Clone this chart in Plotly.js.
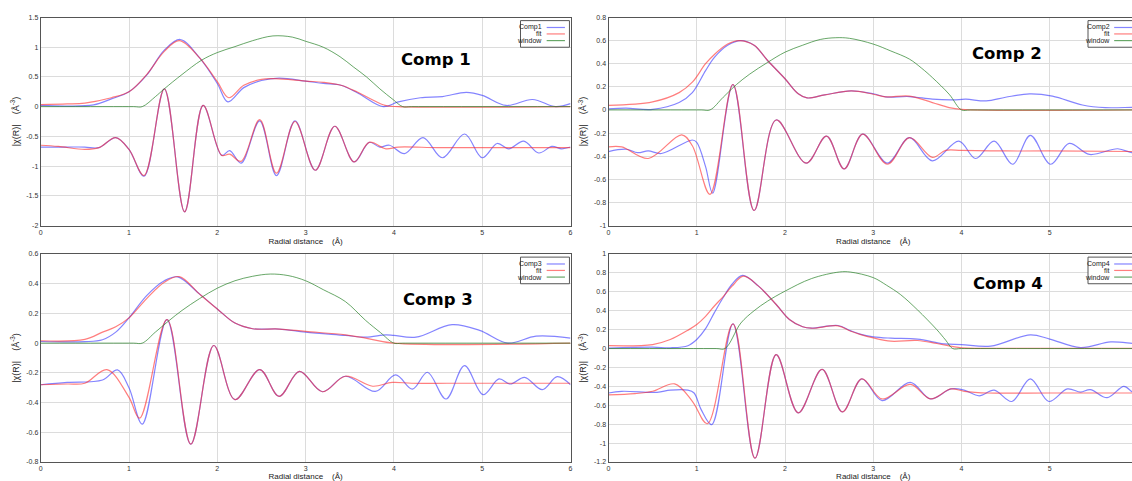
<!DOCTYPE html>
<html>
<head>
<meta charset="utf-8">
<script src="https://cdn.plot.ly/plotly-3.0.1.min.js"></script>
<style>
html,body{margin:0;padding:0;background:#fff;overflow:hidden;}
#chart{width:1140px;height:481px;}
</style>
</head>
<body>
<div id="chart"></div>
<script>
// ---------- tick labels ----------
const xTicks = [0, 1, 2, 3, 4, 5, 6];
const p1YTicks = [1.5, 1, 0.5, 0, -0.5, -1, -1.5, -2];
const p2YTicks = [0.8, 0.6, 0.4, 0.2, 0, -0.2, -0.4, -0.6, -0.8, -1];
const p3YTicks = [0.6, 0.4, 0.2, 0, -0.2, -0.4, -0.6, -0.8];
const p4YTicks = [1, 0.8, 0.6, 0.4, 0.2, 0, -0.2, -0.4, -0.6, -0.8, -1, -1.2];

// ---------- series names ----------
const p1Names = ['Comp1', 'fit', 'window'];
const p2Names = ['Comp2', 'fit', 'window'];
const p3Names = ['Comp3', 'fit', 'window'];
const p4Names = ['Comp4', 'fit', 'window'];
const panelTitles = ['Comp 1', 'Comp 2', 'Comp 3', 'Comp 4'];

// ---------- Panel 1 ----------
const p1CompMagX = [0, 0.3, 0.6, 0.8, 1.0, 1.2, 1.4, 1.58, 1.8, 2.0, 2.12, 2.3, 2.5, 2.7, 3.0, 3.2, 3.4, 3.6, 3.88, 4.05, 4.3, 4.55, 4.82, 5.0, 5.27, 5.57, 5.83, 6];
const p1CompMagY = [0.02, 0.01, 0.03, 0.13, 0.25, 0.53, 0.95, 1.13, 0.82, 0.39, 0.08, 0.32, 0.44, 0.48, 0.43, 0.39, 0.36, 0.22, 0.0, 0.08, 0.15, 0.17, 0.24, 0.19, 0.02, 0.12, 0.0, 0.05];
const p1FitMagX = [0, 0.3, 0.5, 0.8, 1.0, 1.2, 1.4, 1.57, 1.8, 2.0, 2.13, 2.3, 2.5, 2.65, 3.0, 3.2, 3.4, 3.58, 3.75, 3.9, 4.05, 6];
const p1FitMagY = [0.035, 0.045, 0.06, 0.15, 0.25, 0.54, 0.93, 1.11, 0.82, 0.42, 0.15, 0.36, 0.46, 0.47, 0.43, 0.41, 0.36, 0.25, 0.12, 0.02, 0.0, 0.0];
const p1WinX = [0, 1.05, 1.15, 1.3, 1.4, 1.6, 1.82, 2.0, 2.2, 2.4, 2.63, 2.85, 3.0, 3.2, 3.39, 3.54, 3.69, 3.84, 3.99, 4.1, 4.2, 6];
const p1WinY = [0, 0, 0, 0.17, 0.30, 0.54, 0.78, 0.91, 1.01, 1.11, 1.19, 1.17, 1.10, 1.0, 0.84, 0.67, 0.50, 0.30, 0.12, 0, 0, 0];
const p1CompReX = [0, 0.3, 0.5, 0.66, 0.85, 1.0, 1.17, 1.4, 1.63, 1.84, 2.05, 2.14, 2.27, 2.48, 2.67, 2.88, 3.11, 3.33, 3.55, 3.72, 3.84, 3.95, 4.12, 4.33, 4.55, 4.8, 5.0, 5.17, 5.3, 5.47, 5.64, 5.79, 5.9, 6];
const p1CompReY = [-0.68, -0.68, -0.68, -0.69, -0.52, -0.72, -1.17, 0.30, -1.77, 0.02, -0.82, -0.74, -0.95, -0.24, -1.16, -0.24, -1.07, -0.33, -0.93, -0.60, -0.68, -0.65, -0.79, -0.52, -0.86, -0.46, -0.86, -0.62, -0.71, -0.58, -0.78, -0.67, -0.71, -0.68];
const p1FitReX = [0, 0.2, 0.5, 0.66, 0.85, 1.0, 1.17, 1.4, 1.63, 1.84, 2.05, 2.14, 2.27, 2.48, 2.67, 2.88, 3.11, 3.33, 3.55, 3.72, 3.91, 4.05, 4.5, 5, 6];
const p1FitReY = [-0.65, -0.67, -0.72, -0.69, -0.52, -0.72, -1.16, 0.30, -1.77, 0.02, -0.82, -0.80, -0.92, -0.22, -1.12, -0.25, -1.07, -0.33, -0.93, -0.60, -0.71, -0.68, -0.69, -0.69, -0.69];

// ---------- Panel 2 ----------
const p2CompMagX = [0, 0.2, 0.5, 0.8, 0.95, 1.1, 1.2, 1.35, 1.5, 1.65, 1.8, 2.0, 2.15, 2.25, 2.45, 2.75, 3.0, 3.14, 3.41, 3.67, 3.9, 4.05, 4.28, 4.5, 4.77, 5.03, 5.37, 5.63, 5.93, 6];
const p2CompMagY = [0.01, 0.015, 0.005, 0.064, 0.15, 0.34, 0.455, 0.56, 0.60, 0.56, 0.43, 0.27, 0.14, 0.104, 0.13, 0.165, 0.14, 0.113, 0.116, 0.093, 0.087, 0.093, 0.078, 0.11, 0.139, 0.12, 0.043, 0.02, 0.023, 0.023];
const p2FitMagX = [0, 0.5, 0.8, 0.95, 1.1, 1.2, 1.35, 1.48, 1.65, 1.8, 2.0, 2.15, 2.25, 2.45, 2.75, 3.0, 3.14, 3.41, 3.67, 3.86, 4.0, 6];
const p2FitMagY = [0.04, 0.07, 0.15, 0.24, 0.40, 0.48, 0.57, 0.60, 0.56, 0.43, 0.27, 0.14, 0.104, 0.13, 0.165, 0.136, 0.113, 0.12, 0.064, 0.02, 0.005, 0.0];
const p2WinX = [0, 1.05, 1.15, 1.3, 1.45, 1.6, 1.8, 2.0, 2.2, 2.4, 2.575, 2.73, 3.0, 3.2, 3.41, 3.55, 3.67, 3.86, 4.0, 4.1, 6];
const p2WinY = [0, 0, 0, 0.11, 0.22, 0.31, 0.41, 0.50, 0.56, 0.61, 0.625, 0.62, 0.57, 0.51, 0.44, 0.36, 0.28, 0.136, 0, 0, 0];
const p2CompReX = [0, 0.2, 0.33, 0.45, 0.6, 0.95, 1.0, 1.1, 1.18, 1.41, 1.65, 1.9, 2.24, 2.47, 2.67, 2.88, 3.16, 3.41, 3.67, 3.97, 4.16, 4.37, 4.58, 4.78, 5.01, 5.22, 5.45, 5.77, 5.93, 6];
const p2CompReY = [-0.36, -0.34, -0.37, -0.355, -0.377, -0.26, -0.28, -0.49, -0.72, 0.22, -0.87, -0.087, -0.46, -0.226, -0.51, -0.21, -0.46, -0.24, -0.44, -0.27, -0.42, -0.27, -0.47, -0.22, -0.47, -0.29, -0.385, -0.336, -0.37, -0.37];
const p2FitReX = [0, 0.15, 0.45, 0.83, 0.95, 1.15, 1.41, 1.65, 1.9, 2.24, 2.47, 2.67, 2.88, 3.16, 3.41, 3.67, 3.82, 4.0, 4.5, 5.0, 6];
const p2FitReY = [-0.32, -0.32, -0.42, -0.215, -0.31, -0.73, 0.22, -0.87, -0.087, -0.46, -0.226, -0.51, -0.21, -0.47, -0.24, -0.41, -0.35, -0.35, -0.355, -0.355, -0.36];

// ---------- Panel 3 ----------
const p3CompMagX = [0, 0.5, 0.7, 0.85, 1.0, 1.2, 1.4, 1.55, 1.8, 2.0, 2.2, 2.4, 2.7, 3.0, 3.45, 3.68, 3.91, 4.0, 4.25, 4.66, 4.97, 5.29, 5.61, 6];
const p3CompMagY = [0.011, 0.01, 0.023, 0.074, 0.17, 0.32, 0.42, 0.446, 0.33, 0.23, 0.135, 0.097, 0.095, 0.074, 0.052, 0.04, 0.056, 0.052, 0.04, 0.124, 0.086, 0.0, 0.047, 0.034];
const p3FitMagX = [0, 0.5, 0.7, 0.85, 1.0, 1.2, 1.4, 1.57, 1.8, 2.0, 2.2, 2.4, 2.7, 3.0, 3.45, 3.68, 4.0, 6];
const p3FitMagY = [0.016, 0.025, 0.074, 0.11, 0.17, 0.30, 0.41, 0.448, 0.33, 0.23, 0.135, 0.097, 0.095, 0.079, 0.056, 0.034, 0.0, 0.0];
const p3WinX = [0, 1.05, 1.15, 1.3, 1.45, 1.6, 1.8, 2.0, 2.2, 2.4, 2.6, 2.8, 3.0, 3.2, 3.45, 3.68, 3.85, 4.0, 4.1, 6];
const p3WinY = [0, 0, 0, 0.075, 0.15, 0.22, 0.30, 0.37, 0.42, 0.45, 0.465, 0.455, 0.42, 0.36, 0.28, 0.153, 0.07, 0, 0, 0];
const p3CompReX = [0, 0.3, 0.7, 0.87, 1.0, 1.15, 1.43, 1.7, 1.96, 2.2, 2.48, 2.7, 2.93, 3.19, 3.45, 3.79, 4.02, 4.21, 4.38, 4.59, 4.8, 5.01, 5.19, 5.32, 5.48, 5.68, 5.85, 6];
const p3CompReY = [-0.28, -0.264, -0.248, -0.18, -0.30, -0.545, 0.158, -0.68, -0.016, -0.38, -0.178, -0.358, -0.19, -0.327, -0.223, -0.325, -0.214, -0.31, -0.196, -0.376, -0.151, -0.347, -0.241, -0.275, -0.23, -0.313, -0.226, -0.28];
const p3FitReX = [0, 0.3, 0.5, 0.75, 1.0, 1.12, 1.43, 1.7, 1.96, 2.2, 2.48, 2.7, 2.93, 3.19, 3.45, 3.76, 3.98, 4.2, 4.6, 5, 6];
const p3FitReY = [-0.28, -0.275, -0.27, -0.178, -0.365, -0.505, 0.158, -0.68, -0.016, -0.38, -0.178, -0.358, -0.19, -0.327, -0.223, -0.29, -0.264, -0.27, -0.27, -0.27, -0.27];

// ---------- Panel 4 ----------
const p4CompMagX = [0, 0.5, 0.7, 0.9, 1.0, 1.1, 1.2, 1.3, 1.4, 1.52, 1.7, 1.9, 2.05, 2.2, 2.3, 2.6, 2.74, 2.85, 3.0, 3.2, 3.5, 3.8, 4.0, 4.33, 4.78, 5.0, 5.35, 5.69, 5.94, 6];
const p4CompMagY = [0.005, 0.014, 0.008, 0.03, 0.095, 0.21, 0.38, 0.54, 0.68, 0.773, 0.66, 0.466, 0.307, 0.23, 0.215, 0.244, 0.19, 0.152, 0.124, 0.11, 0.10, 0.05, 0.042, 0.025, 0.145, 0.10, 0.01, 0.07, 0.053, 0.05];
const p4FitMagX = [0, 0.5, 0.7, 0.9, 1.0, 1.1, 1.2, 1.3, 1.4, 1.53, 1.7, 1.9, 2.05, 2.2, 2.3, 2.6, 2.74, 2.85, 3.0, 3.2, 3.5, 3.72, 4.0, 4.33, 6];
const p4FitMagY = [0.03, 0.042, 0.095, 0.194, 0.254, 0.34, 0.45, 0.55, 0.66, 0.765, 0.66, 0.466, 0.307, 0.23, 0.215, 0.24, 0.185, 0.15, 0.113, 0.078, 0.085, 0.053, 0.007, 0.003, 0.003];
const p4WinX = [0, 1.22, 1.32, 1.5, 1.65, 1.8, 2.0, 2.3, 2.62, 2.74, 3.0, 3.15, 3.31, 3.5, 3.72, 3.82, 3.9, 4.0, 6];
const p4WinY = [0, 0, 0, 0.27, 0.40, 0.50, 0.607, 0.74, 0.81, 0.809, 0.75, 0.67, 0.57, 0.41, 0.20, 0.09, 0, 0, 0];
const p4CompReX = [0, 0.15, 0.55, 0.7, 0.9, 0.97, 1.05, 1.17, 1.41, 1.66, 1.9, 2.15, 2.42, 2.65, 2.87, 3.1, 3.42, 3.65, 3.88, 4.03, 4.2, 4.37, 4.57, 4.78, 4.99, 5.2, 5.35, 5.46, 5.65, 5.84, 5.94, 6];
const p4CompReY = [-0.47, -0.452, -0.463, -0.44, -0.44, -0.47, -0.646, -0.805, 0.26, -1.16, -0.064, -0.68, -0.22, -0.67, -0.32, -0.55, -0.357, -0.533, -0.427, -0.44, -0.5, -0.44, -0.56, -0.32, -0.56, -0.427, -0.46, -0.434, -0.52, -0.4, -0.46, -0.46];
const p4FitReX = [0, 0.3, 0.5, 0.75, 0.95, 1.12, 1.41, 1.66, 1.9, 2.15, 2.42, 2.65, 2.87, 3.1, 3.42, 3.65, 3.88, 4.03, 4.3, 5, 6];
const p4FitReY = [-0.49, -0.477, -0.452, -0.374, -0.558, -0.795, 0.26, -1.16, -0.064, -0.68, -0.22, -0.67, -0.32, -0.533, -0.38, -0.533, -0.427, -0.452, -0.47, -0.47, -0.47];

// ---------- styling ----------
const BLUE = 'rgba(50,50,255,0.6)';
const RED = 'rgba(255,40,40,0.6)';
const GREEN = 'rgba(40,130,40,0.7)';
const colors = [BLUE, RED, GREEN];
const FONT = 'Liberation Sans, Arial, sans-serif';

function tr(x, y, color, n, w) {
  return {
    x: x, y: y, type: 'scatter', mode: 'lines',
    line: {color: color, width: w, shape: 'spline', smoothing: 1},
    xaxis: 'x' + n, yaxis: 'y' + n, showlegend: false, hoverinfo: 'skip'
  };
}

const panels = [
  {n: '', names: p1Names, yt: p1YTicks, cm: [p1CompMagX, p1CompMagY], cr: [p1CompReX, p1CompReY], fm: [p1FitMagX, p1FitMagY], fr: [p1FitReX, p1FitReY], w: [p1WinX, p1WinY]},
  {n: '2', names: p2Names, yt: p2YTicks, cm: [p2CompMagX, p2CompMagY], cr: [p2CompReX, p2CompReY], fm: [p2FitMagX, p2FitMagY], fr: [p2FitReX, p2FitReY], w: [p2WinX, p2WinY]},
  {n: '3', names: p3Names, yt: p3YTicks, cm: [p3CompMagX, p3CompMagY], cr: [p3CompReX, p3CompReY], fm: [p3FitMagX, p3FitMagY], fr: [p3FitReX, p3FitReY], w: [p3WinX, p3WinY]},
  {n: '4', names: p4Names, yt: p4YTicks, cm: [p4CompMagX, p4CompMagY], cr: [p4CompReX, p4CompReY], fm: [p4FitMagX, p4FitMagY], fr: [p4FitReX, p4FitReY], w: [p4WinX, p4WinY]}
];

const W = 1140, H = 481;
const xDomL = [40.7 / W, 570.5 / W];
const xDomR = [608.5 / W, 1138 / W];
const yDomT = [1 - 225.5 / H, 1 - 17.5 / H];
const yDomB = [1 - 462 / H, 1 - 254 / H];
const doms = [[xDomL, yDomT], [xDomR, yDomT], [xDomL, yDomB], [xDomR, yDomB]];
const titlePos = [[0.746, 0.796], [0.7526, 0.829], [0.75, 0.779], [0.7545, 0.856]];

const data = [];
const layout = {
  width: W, height: H,
  margin: {l: 0, r: 0, t: 0, b: 0},
  paper_bgcolor: '#fff', plot_bgcolor: '#fff',
  showlegend: false,
  font: {family: FONT, size: 7, color: '#333'},
  shapes: [], annotations: []
};

panels.forEach(function (p, i) {
  const n = p.n;
  data.push(tr(p.cm[0], p.cm[1], BLUE, n, 1.2));
  data.push(tr(p.cr[0], p.cr[1], BLUE, n, 1.2));
  data.push(tr(p.fm[0], p.fm[1], RED, n, 1.2));
  data.push(tr(p.fr[0], p.fr[1], RED, n, 1.2));
  data.push(tr(p.w[0], p.w[1], GREEN, n, 1));

  const yr = [p.yt[p.yt.length - 1], p.yt[0]];
  layout['xaxis' + n] = {
    domain: doms[i][0], anchor: 'y' + n, range: [0, 6],
    tickvals: xTicks, ticktext: xTicks.map(String),
    showgrid: true, gridcolor: '#dcdcdc', gridwidth: 1, zeroline: false,
    showline: true, mirror: true, linecolor: '#555', linewidth: 1, ticks: '',
    tickfont: {size: 7, color: '#333', family: FONT},
    title: {text: 'Radial distance\u00a0\u00a0\u00a0\u00a0(Å)', font: {size: 8, color: '#222', family: FONT}, standoff: 3}
  };
  layout['yaxis' + n] = {
    domain: doms[i][1], anchor: 'x' + n, range: yr,
    tickvals: p.yt, ticktext: p.yt.map(String),
    showgrid: true, gridcolor: '#dcdcdc', gridwidth: 1, zeroline: false,
    showline: true, mirror: true, linecolor: '#555', linewidth: 1, ticks: '',
    tickfont: {size: 7, color: '#333', family: FONT},
    title: {text: '|χ(R)|\u00a0\u00a0\u00a0\u00a0(Å<sup>-3</sup>)', font: {size: 9, color: '#222', family: FONT}, standoff: 5}
  };

  const xr = 'x' + n + ' domain', yref = 'y' + n + ' domain';
  // legend box
  layout.shapes.push({type: 'rect', xref: xr, yref: yref, x0: 0.9056, x1: 0.998, y0: 0.857, y1: 0.985,
    line: {color: '#555', width: 1}, fillcolor: '#fff', layer: 'above'});
  const rows = [0.952, 0.921, 0.889];
  p.names.forEach(function (nm, k) {
    layout.shapes.push({type: 'line', xref: xr, yref: yref, x0: 0.955, x1: 0.9895, y0: rows[k], y1: rows[k],
      line: {color: colors[k], width: 1.2}, layer: 'above'});
    layout.annotations.push({xref: xr, yref: yref, x: 0.9505, y: rows[k], xanchor: 'right', yanchor: 'middle',
      text: nm, showarrow: false, font: {size: 7, color: '#222', family: FONT}});
  });
  // panel title
  layout.annotations.push({xref: xr, yref: yref, x: titlePos[i][0], y: titlePos[i][1], xanchor: 'center', yanchor: 'middle',
    text: '<b>' + panelTitles[i] + '</b>', showarrow: false, font: {size: 16.5, color: '#000', family: 'DejaVu Sans'}});
});

Plotly.newPlot('chart', data, layout, {displayModeBar: false, staticPlot: true});
</script>
</body>
</html>
